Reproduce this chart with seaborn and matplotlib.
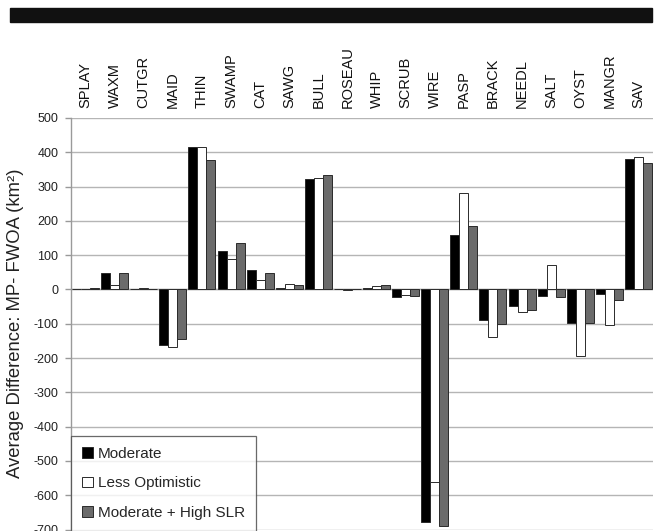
import numpy as np
import pandas as pd
import matplotlib
matplotlib.use("Agg")
import matplotlib.pyplot as plt
import seaborn as sns
from matplotlib.patches import Rectangle

# Habitat categories
categories = ["SPLAY", "WAXM", "CUTGR", "MAID", "THIN", "SWAMP", "CAT", "SAWG",
              "BULL", "ROSEAU", "WHIP", "SCRUB", "WIRE", "PASP", "BRACK",
              "NEEDL", "SALT", "OYST", "MANGR", "SAV"]

# Average difference (km²) per scenario
moderate = [2, 49, 1, -163, 416, 112, 56, 5, 322, 2, 4, -22, -679, 158, -89,
            -49, -20, -97, -13, 379]
less_optimistic = [2, 14, 4, -169, 414, 88, 29, 17, 324, -2, 11, -15, -562, 282,
                   -139, -66, 70, -193, -105, 385]
moderate_high_slr = [3, 47, 2, -144, 377, 136, 47, 13, 333, 1, 13, -19, -690,
                     185, -100, -59, -22, -97, -32, 368]

scenarios = ["Moderate", "Less Optimistic", "Moderate + High SLR"]
y_ticks = list(range(-700, 501, 100))

df = pd.DataFrame({
    "category": categories * 3,
    "scenario": np.repeat(scenarios, len(categories)),
    "value": moderate + less_optimistic + moderate_high_slr,
})

sns.set_theme(style="white")
plt.rcParams["font.family"] = ["Liberation Sans", "DejaVu Sans"]

fig = plt.figure(figsize=(6.6, 5.31), dpi=100)
ax = fig.add_axes([71 / 660, 1 - 529.5 / 531, (653 - 71) / 660, (529.5 - 118) / 531])

palette = {"Moderate": "#000000", "Less Optimistic": "#ffffff",
           "Moderate + High SLR": "#6b6b6b"}
sns.barplot(data=df, x="category", y="value", hue="scenario", order=categories,
            hue_order=scenarios, palette=palette, width=0.93, gap=0,
            edgecolor="#2a2a2a", linewidth=0.7, saturation=1, ax=ax, zorder=3)

ax.set_ylim(-700, 500)
ax.set_xlim(-0.5, len(categories) - 0.5)
ax.set_yticks(y_ticks)
ax.set_yticklabels([str(t) for t in y_ticks], fontsize=9, color="#222222")
ax.yaxis.grid(True, color="#b5b5b5", linewidth=1.0, zorder=0)
ax.xaxis.grid(False)
ax.axhline(0, color="#a8a8a8", linewidth=1.0, zorder=2)

ax.xaxis.tick_top()
ax.set_xticks(range(len(categories)))
ax.set_xticklabels(categories, rotation=90, fontsize=10.5, color="#111111")
ax.tick_params(axis="x", length=0, pad=7)
ax.tick_params(axis="y", left=True, length=4, width=1, color="#999999", pad=5)
ax.set_xlabel("")
ax.set_ylabel("Average Difference: MP- FWOA (km²)", fontsize=13.3,
              color="#222222", labelpad=7)

for side in ["top", "right", "bottom"]:
    ax.spines[side].set_visible(False)
ax.spines["left"].set_color("#9a9a9a")
ax.spines["left"].set_linewidth(1.0)

handles, labels = ax.get_legend_handles_labels()
leg = ax.legend(handles, labels, loc="lower left", bbox_to_anchor=(0.0, -0.004),
                fontsize=11, frameon=True, fancybox=False, handlelength=0.7,
                handleheight=0.7, handletextpad=0.3, labelspacing=1.0,
                borderpad=0.75, borderaxespad=0.0)
leg.get_frame().set_edgecolor("#444444")
leg.get_frame().set_linewidth(0.9)
leg.set_zorder(5)

# Black banner across the top of the figure
fig.patches.append(Rectangle((10 / 660, 1 - 22 / 531), (652 - 10) / 660, 14 / 531,
                             transform=fig.transFigure, color="#111111",
                             zorder=0))

fig.savefig("out.png", dpi=100)
